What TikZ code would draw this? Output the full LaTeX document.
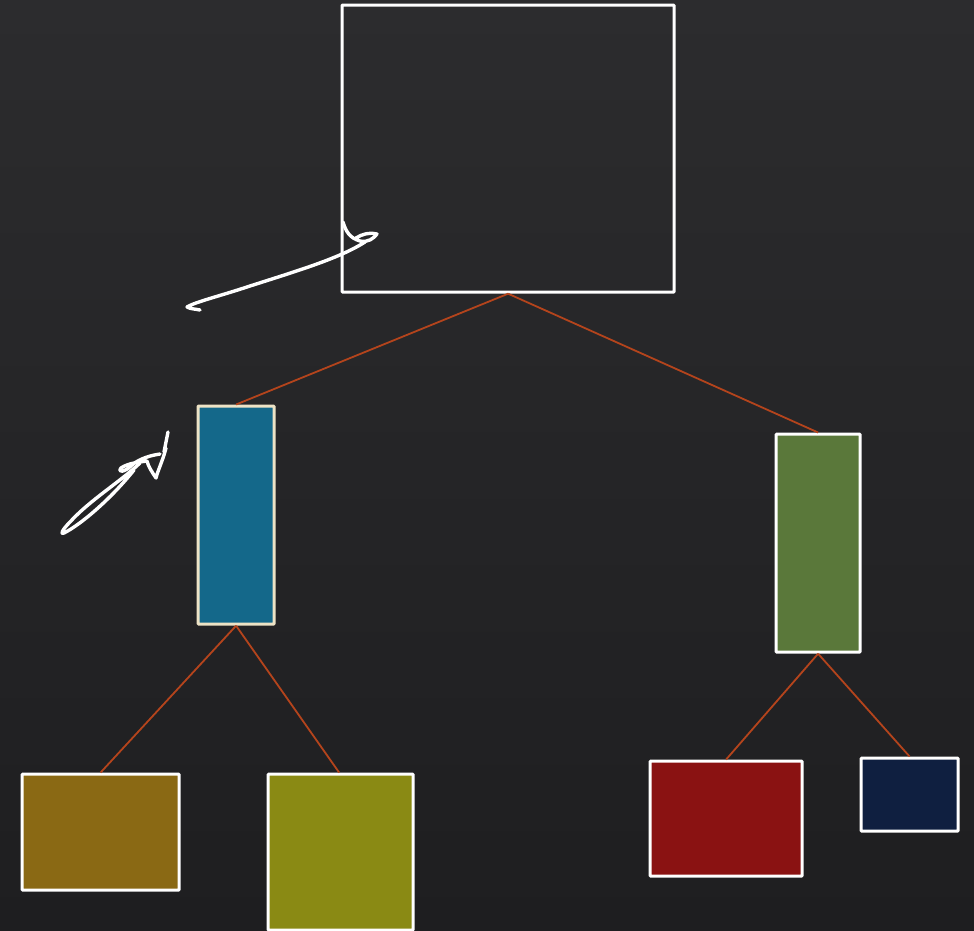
\documentclass[tikz,border=0pt]{standalone}
\usetikzlibrary{calc}
\definecolor{bgtop}{HTML}{2C2C2E}
\definecolor{bgbot}{HTML}{1E1E20}
\definecolor{link}{HTML}{B4441C}
\definecolor{cream}{HTML}{EDE3C6}
\definecolor{cblue}{HTML}{14688A}
\definecolor{cgreen}{HTML}{5A783A}
\definecolor{cbrown}{HTML}{8A6914}
\definecolor{colive}{HTML}{8A8A14}
\definecolor{cred}{HTML}{8A1212}
\definecolor{cnavy}{HTML}{0F1F40}
\tikzset{
  treebox/.style={draw=white, line width=3.2pt, rounded corners=0.8pt,
    anchor=north west, inner sep=0pt},
  edge/.style={draw=link, line width=1.8pt},
  ink/.style={draw=white, line width=3.4pt, line cap=round, line join=round},
}
\begin{document}
\begin{tikzpicture}[x=1pt,y=-1pt]
  % dark board background
  \shade[top color=bgtop, bottom color=bgbot] (0,0) rectangle (974,930);
  \useasboundingbox (0,0) rectangle (974,930);

  % boxes
  \node[treebox, minimum width=332pt, minimum height=287pt] (root) at (340.5,3.5) {};
  \node[treebox, draw=cream, fill=cblue, minimum width=76pt, minimum height=218pt] (left) at (196.5,404.5) {};
  \node[treebox, fill=cgreen, minimum width=84pt, minimum height=218pt] (right) at (774.5,432.5) {};
  \node[treebox, fill=cbrown, minimum width=157pt, minimum height=116pt] (ll) at (20.5,772.5) {};
  \node[treebox, fill=colive, minimum width=145pt, minimum height=156pt] (lr) at (266.5,772.5) {};
  \node[treebox, fill=cred, minimum width=152pt, minimum height=115pt] (rl) at (648.5,759.5) {};
  \node[treebox, fill=cnavy, minimum width=97pt, minimum height=73pt] (rr) at (859.5,756.5) {};

  % connectors
  \draw[edge] (root.south) -- (left.north);
  \draw[edge] (root.south) -- (right.north);
  \draw[edge] (left.south) -- ($(ll.north west)!0.5!(ll.north east)$);
  \draw[edge] (left.south) -- ($(lr.north west)!0.49!(lr.north east)$);
  \draw[edge] (right.south) -- (rl.north);
  \draw[edge] (right.south) -- (rr.north);

  % hand-drawn pen strokes
  \draw[ink] (343,222) .. controls (346,232) and (350,238) .. (360,241)
             .. controls (368,243) and (374,238) .. (377,234)
             .. controls (370,232) and (362,234) .. (356,238);
  \draw[ink] (365,242) .. controls (340,258) and (300,270) .. (250,286)
             .. controls (220,296) and (195,302) .. (187,307)
             .. controls (190,309) and (196,309) .. (200,310);
  \draw[ink] (168,432) -- (164,452);
  \draw[ink] (166,448) .. controls (163,460) and (158,470) .. (156,478)
             .. controls (152,472) and (148,466) .. (147,461)
             .. controls (140,462) and (128,463) .. (121,468)
             .. controls (117,473) and (125,472) .. (131,466)
             .. controls (136,461) and (146,456) .. (160,454);
  \draw[ink] (140,463) .. controls (120,482) and (90,500) .. (70,522)
             .. controls (62,530) and (60,535) .. (64,533)
             .. controls (80,525) and (110,500) .. (134,470);
\end{tikzpicture}
\end{document}
